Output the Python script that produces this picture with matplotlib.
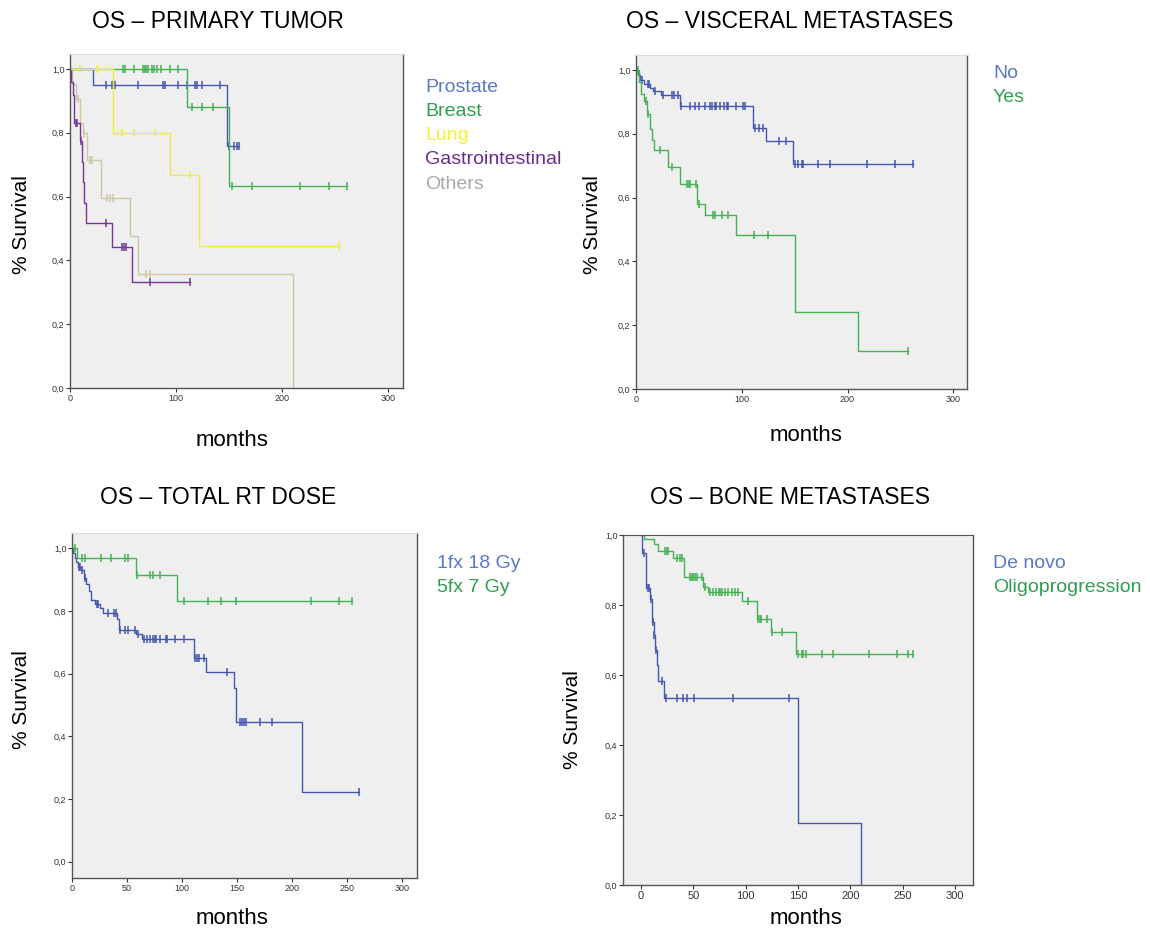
import numpy as np
import matplotlib
matplotlib.use("Agg")
import matplotlib.pyplot as plt

plt.rcParams['font.family'] = ['Liberation Sans', 'DejaVu Sans']

# ---- data (months, survival) ----
# OS - primary tumor
prostate_t = [0, 22, 148]
prostate_s = [1.0, 0.95, 0.76]
prostate_c = [34, 40, 42, 64, 88, 90, 102, 110, 118, 120, 124, 141, 150, 155, 157, 159]
breast_t = [0, 110, 150]
breast_s = [1.0, 0.882, 0.632]
breast_c = [50, 52, 60, 69, 71, 72, 74, 77, 79, 82, 86, 94, 102, 115, 124, 135, 153, 172, 217, 244, 261]
lung_t = [0, 41, 94, 122]
lung_s = [1.0, 0.80, 0.667, 0.444]
lung_c = [9, 25, 49, 60, 80, 113, 254]
gi_t = [0, 1, 3, 4, 9, 11, 12, 13, 15, 40, 58]
gi_s = [1.0, 0.958, 0.917, 0.83, 0.775, 0.71, 0.645, 0.58, 0.516, 0.443, 0.332]
gi_c = [6, 7, 10, 34, 49, 51, 53, 75, 113]
others_t = [0, 2, 6, 9, 12, 16, 29, 57, 64, 210]
others_s = [1.0, 0.952, 0.905, 0.83, 0.80, 0.714, 0.595, 0.476, 0.357, 0.0]
others_c = [8, 13, 19, 21, 35, 38, 41, 72, 75]

# OS - visceral metastases
no_t = [0, 2, 4, 8, 13, 16, 24, 42, 111, 123, 148]
no_s = [1.0, 0.985, 0.969, 0.955, 0.945, 0.935, 0.922, 0.887, 0.817, 0.776, 0.706]
no_c = [6, 11, 12, 18, 26, 34, 36, 40, 43, 51, 56, 60, 65, 70, 72, 75, 76, 79, 83, 86, 87,
        95, 101, 103, 113, 116, 120, 135, 142, 150, 153, 157, 158, 172, 183, 218, 245, 262]
yes_t = [0, 3, 5, 8, 10, 13, 15, 17, 30, 42, 58, 65, 95, 150, 210]
yes_s = [1.0, 0.961, 0.924, 0.903, 0.862, 0.815, 0.78, 0.749, 0.697, 0.642, 0.58, 0.546, 0.483, 0.241, 0.12]
yes_c = [2, 9, 11, 23, 34, 48, 50, 51, 57, 60, 73, 75, 81, 87, 112, 125, 257]

# OS - total RT dose
g18_t = [0, 1, 3, 4, 5, 8, 11, 13, 15, 17, 21, 25, 28, 41, 42.5, 58.5, 63.5, 110.5, 122, 147, 149, 209]
g18_s = [1.0, 0.985, 0.97, 0.955, 0.939, 0.93, 0.906, 0.885, 0.865, 0.835, 0.822, 0.81, 0.793,
         0.775, 0.741, 0.726, 0.71, 0.651, 0.606, 0.553, 0.445, 0.221]
g18_c = [6, 7.5, 9, 12, 23, 24, 33, 38, 40, 44, 48.5, 50.6, 57.6, 60, 65, 68, 71, 73.6, 75, 76, 80,
         85, 86, 94, 101.5, 112, 113.6, 115, 120, 141, 153, 154.5, 156.6, 158.5, 171, 182, 261]
g7_t = [0, 4.5, 58.5, 95]
g7_s = [1.0, 0.968, 0.915, 0.832]
g7_c = [3, 9, 12, 26, 35, 48, 51, 59, 71, 74, 80, 102, 124, 135, 149, 217, 243, 254.5]

# OS - bone metastases
dn_t = [0, 0.6, 5, 9, 10.5, 12, 13.5, 15.6, 16.6, 22.3, 150.3, 210]
dn_s = [1.0, 0.95, 0.848, 0.817, 0.752, 0.714, 0.671, 0.629, 0.584, 0.533, 0.178, 0.0]
dn_c = [3, 6.4, 8, 9.5, 11, 12.7, 14, 19.7, 23.6, 34, 40.4, 44, 50.6, 87.6, 141.7]
op_t = [0, 3, 12, 16.6, 31, 41, 59, 64, 96, 110.5, 124, 148]
op_s = [1.0, 0.99, 0.975, 0.955, 0.933, 0.881, 0.852, 0.836, 0.811, 0.759, 0.722, 0.659]
op_c = [23, 24.5, 26, 34, 37, 39, 47, 48.4, 50, 51.6, 53, 58, 61, 66, 69, 72, 74, 75.5, 77, 80,
        83.4, 86.6, 90, 93, 102.5, 112, 113.7, 115, 120, 125.5, 135, 150, 153.5, 155, 158,
        172.6, 183, 218, 244, 255.4, 260]

y_ticks = [0.0, 0.2, 0.4, 0.6, 0.8, 1.0]
y_ticklabels = ['0,0', '0,2', '0,4', '0,6', '0,8', '1,0']

BLUE = '#4456b0'
GREEN = '#45b152'
YELLOW = '#eded45'
PURPLE = '#763795'
TAN = '#cdc8a0'

W, H = 1150, 938
fig = plt.figure(figsize=(W / 100, H / 100), dpi=100)


def box(l, t, r, b):
    return [l / W, 1 - b / H, (r - l) / W, (b - t) / H]


def km(ax, t, s, cens, color):
    end = max(max(cens), t[-1])
    ax.step(list(t) + [end], list(s) + [s[-1]], where='post', color=color, lw=1.0)
    idx = np.searchsorted(t, cens, side='right') - 1
    ax.plot(cens, np.array(s)[idx], ls='none', marker='|', ms=5.5, mew=1.1, color=color)


def style(ax, xlim, ylim, xticks, top_color='#dddddd'):
    ax.set_facecolor('#efefef')
    ax.set_xlim(*xlim)
    ax.set_ylim(*ylim)
    ax.set_xticks(xticks)
    ax.set_yticks(y_ticks)
    ax.set_yticklabels(y_ticklabels)
    ax.tick_params(labelsize=6.5, length=3, width=0.8, colors='#333333', pad=1)
    for k in ['left', 'bottom', 'right']:
        ax.spines[k].set_color('#555555')
        ax.spines[k].set_linewidth(1.0)
    ax.spines['top'].set_color(top_color)


def labels(title, tx, ty, ylx, yly, xlx, xly):
    fig.text(tx / W, 1 - ty / H, title, ha='center', va='center', fontsize=16.5)
    fig.text(ylx / W, 1 - yly / H, '% Survival', ha='center', va='center', rotation=90, fontsize=15)
    fig.text(xlx / W, 1 - xly / H, 'months', ha='center', va='center', fontsize=16)


def legend(x, y, names, colors):
    for i, (n, c) in enumerate(zip(names, colors)):
        fig.text(x / W, 1 - (y + 24 * i) / H, n, ha='left', va='center', fontsize=14, color=c)


# panel 1
ax1 = fig.add_axes(box(70, 54, 403, 388))
km(ax1, others_t, others_s, others_c, TAN)
km(ax1, gi_t, gi_s, gi_c, PURPLE)
km(ax1, prostate_t, prostate_s, prostate_c, BLUE)
km(ax1, breast_t, breast_s, breast_c, GREEN)
km(ax1, lung_t, lung_s, lung_c, YELLOW)
style(ax1, (0, 314), (0, 1.047), [0, 100, 200, 300])
labels('OS – PRIMARY TUMOR', 218, 22, 22, 225, 232, 440)
legend(425, 88, ['Prostate', 'Breast', 'Lung', 'Gastrointestinal', 'Others'],
       ['#5a78c8', '#2f9e4f', '#f2f233', '#6a2d8f', '#a9a9a9'])

# panel 2
ax2 = fig.add_axes(box(636, 55, 967, 389))
km(ax2, no_t, no_s, no_c, BLUE)
km(ax2, yes_t, yes_s, yes_c, GREEN)
style(ax2, (0, 313), (0, 1.047), [0, 100, 200, 300])
labels('OS – VISCERAL METASTASES', 790, 22, 593, 225, 806, 435)
legend(993, 73, ['No', 'Yes'], ['#5a78c8', '#2f9e4f'])

# panel 3
ax3 = fig.add_axes(box(72, 533, 417, 878))
km(ax3, g18_t, g18_s, g18_c, BLUE)
km(ax3, g7_t, g7_s, g7_c, GREEN)
style(ax3, (0, 313.6), (-0.052, 1.049), [0, 50, 100, 150, 200, 250, 300])
labels('OS – TOTAL RT DOSE', 218, 497, 22, 700, 232, 918)
legend(437, 563, ['1fx 18 Gy', '5fx 7 Gy'], ['#5a78c8', '#2f9e4f'])

# panel 4
ax4 = fig.add_axes(box(623, 535, 973, 885))
km(ax4, dn_t, dn_s, dn_c, BLUE)
km(ax4, op_t, op_s, op_c, GREEN)
style(ax4, (-17.2, 317), (0, 1.0), [0, 50, 100, 150, 200, 250, 300], top_color='#555555')
ax4.tick_params(axis='x', labelsize=8)
labels('OS – BONE METASTASES', 790, 497, 572, 720, 806, 918)
legend(993, 563, ['De novo', 'Oligoprogression'], ['#5a78c8', '#2f9e4f'])

fig.savefig('out.png', dpi=100)
